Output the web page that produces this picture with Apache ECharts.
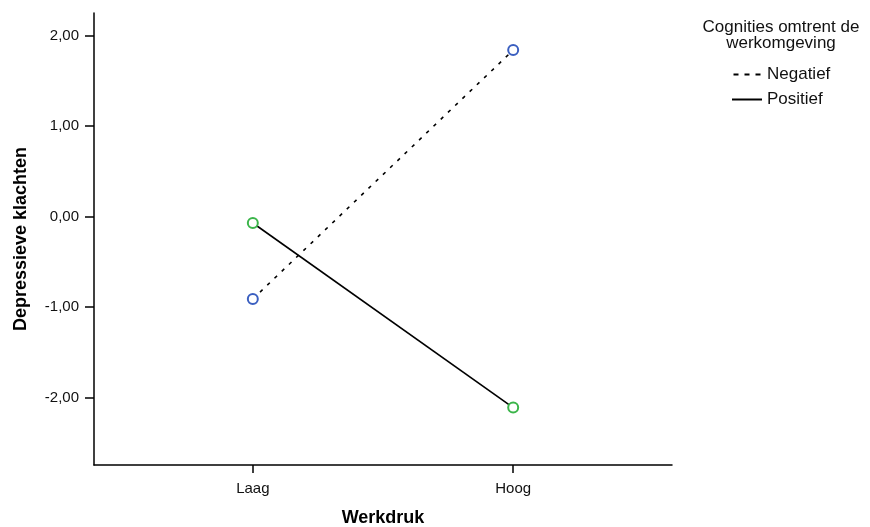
<!DOCTYPE html>
<html>
<head>
<meta charset="utf-8">
<script src="https://cdn.jsdelivr.net/npm/echarts@6/dist/echarts.min.js"></script>
<style>
  html, body { margin: 0; padding: 0; background: #fff; }
  #chart { width: 870px; height: 527px; }
</style>
</head>
<body>
<div id="chart"></div>
<script>
const categories = ["Laag", "Hoog"];
const negatief = [-0.91, 1.84];
const positief = [-0.07, -2.11];
const yTicks = [-2, -1, 0, 1, 2];
const legendTitle = "Cognities omtrent de\nwerkomgeving";

const chart = echarts.init(document.getElementById("chart"));
const font = "Liberation Sans, Arial, sans-serif";
const fmt = (v) => v.toFixed(2).replace(".", ",");

chart.setOption({
  animation: false,
  textStyle: { fontFamily: font },
  grid: { left: 94, right: 198, top: 13, bottom: 62, outerBoundsMode: "none" },
  graphic: [
    {
      type: "text",
      x: 781,
      y: 19,
      style: {
        text: legendTitle,
        align: "center",
        verticalAlign: "top",
        font: "17px " + font,
        lineHeight: 16.5,
        fill: "#111",
      },
    },
  ],
  legend: {
    orient: "vertical",
    left: 727,
    top: 61,
    itemGap: 8,
    itemWidth: 30,
    itemHeight: 2,
    textStyle: { fontSize: 17, color: "#111", fontFamily: font },
    data: [
      { name: "Negatief", icon: "path://M0,0h5v2h-5z M11,0h5v2h-5z M22,0h5v2h-5z", itemStyle: { color: "#000" } },
      { name: "Positief", icon: "rect", itemStyle: { color: "#000" } },
    ],
  },
  xAxis: {
    type: "value",
    min: -0.61,
    max: 1.61,
    name: "Werkdruk",
    nameLocation: "middle",
    nameGap: 44,
    nameTextStyle: { fontSize: 18, fontWeight: "bold", color: "#000" },
    axisLine: { show: true, onZero: false, lineStyle: { color: "#000", width: 1.5 } },
    axisTick: { show: true, length: 8, customValues: [0, 1], lineStyle: { color: "#000", width: 1.5 } },
    axisLabel: {
      customValues: [0, 1],
      margin: 16,
      fontSize: 15,
      color: "#111",
      formatter: (v) => categories[Math.round(v)],
    },
    splitLine: { show: false },
  },
  yAxis: {
    type: "value",
    min: -2.744,
    max: 2.25,
    name: "Depressieve klachten",
    nameLocation: "middle",
    nameGap: 64,
    nameTextStyle: { fontSize: 18, fontWeight: "bold", color: "#000" },
    axisLine: { show: true, onZero: false, lineStyle: { color: "#000", width: 1.5 } },
    axisTick: { show: true, length: 9, customValues: yTicks, lineStyle: { color: "#000", width: 1.5 } },
    axisLabel: {
      customValues: yTicks,
      margin: 15,
      fontSize: 15,
      color: "#111",
      formatter: fmt,
    },
    splitLine: { show: false },
  },
  series: [
    {
      name: "Negatief",
      type: "line",
      data: negatief.map((v, i) => [i, v]),
      symbol: "emptyCircle",
      symbolSize: 10,
      lineStyle: { color: "#000", width: 1.6, type: [3.5, 6.5] },
      itemStyle: { color: "#3b5fc0", borderWidth: 2 },
    },
    {
      name: "Positief",
      type: "line",
      data: positief.map((v, i) => [i, v]),
      symbol: "emptyCircle",
      symbolSize: 10,
      lineStyle: { color: "#000", width: 1.6 },
      itemStyle: { color: "#3bb54a", borderWidth: 2 },
    },
  ],
});
</script>
</body>
</html>
